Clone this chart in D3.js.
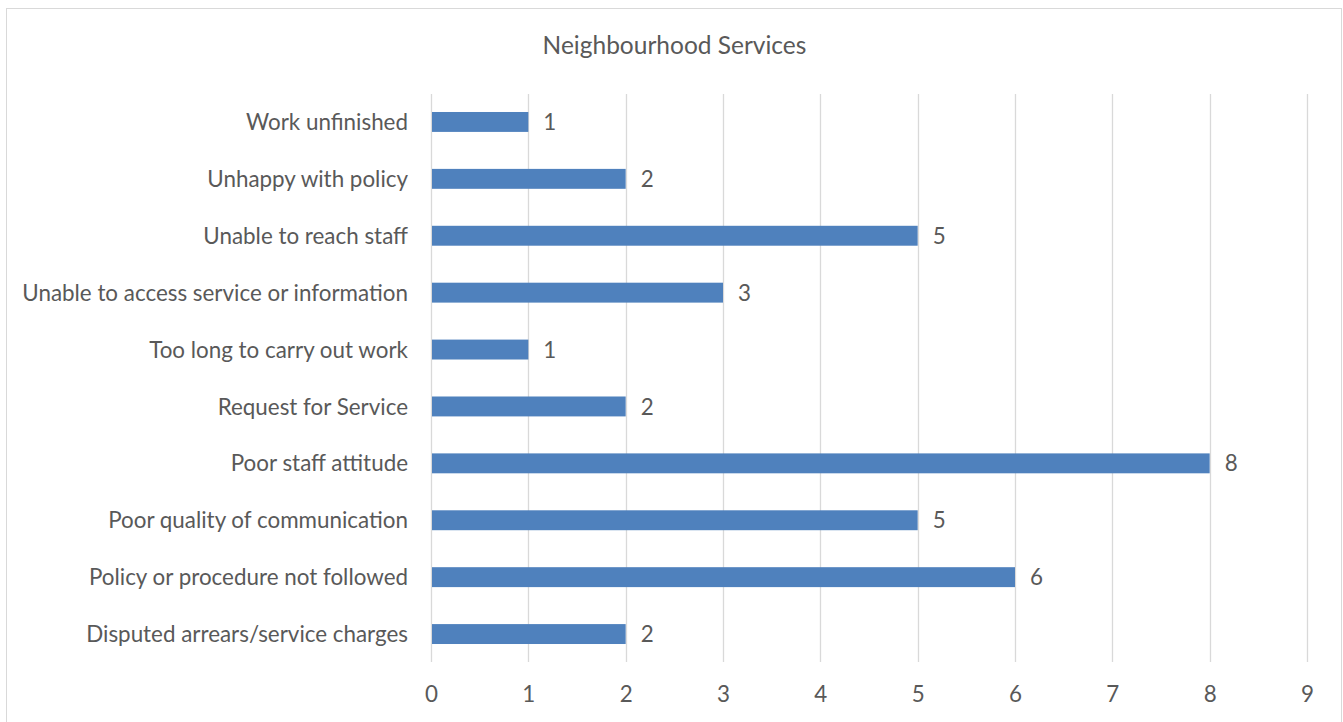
<!DOCTYPE html>
<html>
<head>
<meta charset="utf-8">
<script src="https://cdn.jsdelivr.net/npm/d3@7"></script>
<style>
  html, body { margin: 0; padding: 0; background: #fff; }
  svg { display: block; }
  text { font-family: Lato, "Open Sans", sans-serif; fill: #595959; }
</style>
</head>
<body>
<svg id="chart" width="1343" height="722"></svg>
<script>
// Complaint categories, listed top to bottom
const categories = [
  "Work unfinished",
  "Unhappy with policy",
  "Unable to reach staff",
  "Unable to access service or information",
  "Too long to carry out work",
  "Request for Service",
  "Poor staff attitude",
  "Poor quality of communication",
  "Policy or procedure not followed",
  "Disputed arrears/service charges"
];
const counts = [1, 2, 5, 3, 1, 2, 8, 5, 6, 2];
const xTicks = [0, 1, 2, 3, 4, 5, 6, 7, 8, 9];
const title = "Neighbourhood Services";

const labelSize = 22.4;
const svg = d3.select("#chart");

// chart frame
svg.append("rect")
  .attr("x", 6.5).attr("y", 8.5)
  .attr("width", 1335).attr("height", 730)
  .attr("fill", "#fff").attr("stroke", "#d9d9d9").attr("stroke-width", 1);

const x = d3.scaleLinear().domain([0, 9]).range([431, 1307]);
const y = d3.scaleBand().domain(categories).range([93.5, 662.5])
  .paddingInner(0.65).paddingOuter(0.325);

// vertical gridlines
svg.append("g").selectAll("line").data(xTicks).join("line")
  .attr("x1", d => Math.round(x(d)) + 0.5).attr("x2", d => Math.round(x(d)) + 0.5)
  .attr("y1", 94).attr("y2", 662)
  .attr("stroke", "#d9d9d9").attr("stroke-width", 1.3);

// bars
svg.append("g").selectAll("rect").data(categories).join("rect")
  .attr("x", x(0) + 1)
  .attr("y", d => y(d))
  .attr("width", (d, i) => x(counts[i]) - x(0) - 1)
  .attr("height", y.bandwidth())
  .attr("fill", "#4f81bd");

// value labels
svg.append("g").selectAll("text").data(categories).join("text")
  .attr("x", (d, i) => x(counts[i]) + 15)
  .attr("y", d => y(d) + y.bandwidth() / 2)
  .attr("dy", "0.36em")
  .attr("font-size", labelSize)
  .text((d, i) => counts[i]);

// category axis
const yAxis = svg.append("g")
  .attr("transform", `translate(${x(0) - 23},0)`)
  .call(d3.axisLeft(y).tickSize(0).tickPadding(0));
yAxis.select(".domain").remove();
yAxis.selectAll("text").attr("font-size", labelSize).attr("fill", "#595959")
  .attr("dy", "0.36em").style("font-family", "Lato, 'Open Sans', sans-serif");

// value axis
const xAxis = svg.append("g")
  .attr("transform", "translate(0,694)")
  .call(d3.axisBottom(x).tickValues(xTicks).tickSize(0).tickPadding(0).tickFormat(d3.format("d")));
xAxis.select(".domain").remove();
xAxis.selectAll("text").attr("font-size", labelSize).attr("fill", "#595959")
  .attr("dy", "0.36em").style("font-family", "Lato, 'Open Sans', sans-serif");

// title
svg.append("text")
  .attr("x", 674.5).attr("y", 45)
  .attr("dy", "0.36em")
  .attr("text-anchor", "middle")
  .attr("font-size", 24.5)
  .text(title);
</script>
</body>
</html>
